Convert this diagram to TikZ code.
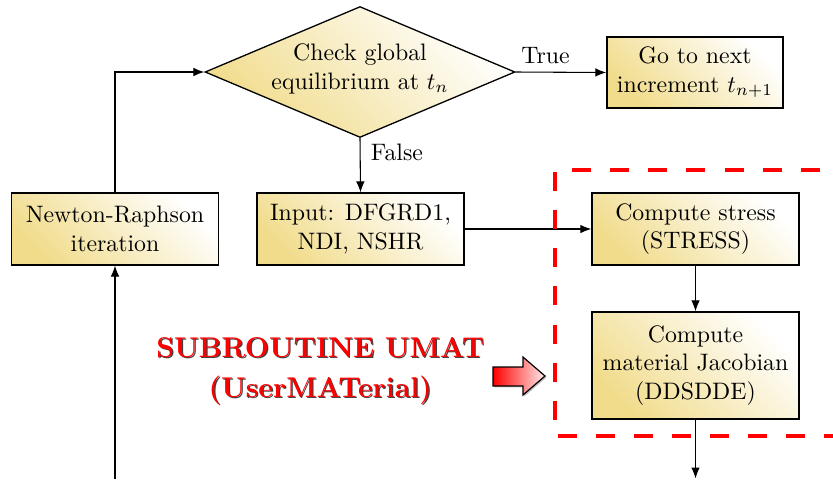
\documentclass[tikz,border=0pt]{standalone}
\usetikzlibrary{shapes.geometric,arrows.meta,shadows}
\definecolor{boxyellow}{RGB}{241,220,140}
\begin{document}
\begin{tikzpicture}[x=0.42pt,y=-0.42pt,
  box/.style={draw, line width=0.55pt, top color=boxyellow, bottom color=white, shading angle=135, align=center, inner sep=0pt, minimum width=87pt, minimum height=30.2pt},
  dia/.style={diamond, draw, line width=0.55pt, top color=boxyellow, bottom color=white, shading angle=135, inner sep=0pt},
  arr/.style={line width=0.45pt, -{Latex[length=4.6pt,width=3.6pt]}},
  reddash/.style={red, line width=1.7pt, dash pattern=on 8pt off 8pt},
  umatstyle/.style={align=center, font=\fontsize{12}{16.8}\selectfont\bfseries}]
\clip (0,0) rectangle (833,479);
% nodes
\node[dia, minimum width=130.2pt, minimum height=55pt] (chk) at (360,72) {};
\node[align=center, inner sep=0pt] (chktxt) at (360,69) {Check global\\equilibrium at $t_n$};
\node[box, minimum width=74pt, minimum height=29.8pt] (go) at (695,72.5) {Go to next\\increment $t_{n+1}$};
\node[box] (nr) at (115,229) {Newton-Raphson\\iteration};
\node[box] (inp) at (360.5,229) {Input: DFGRD1,\\NDI, NSHR};
\node[box] (st) at (695.5,229) {Compute stress\\(STRESS)};
\node[box, minimum height=45pt] (jac) at (695.5,365.5) {Compute\\material Jacobian\\(DDSDDE)};
\coordinate (bot1) at (115,479);
\coordinate (bot2) at (695.5,478.5);
% connectors
\draw[arr] (nr.north) |- (chk.west);
\draw[arr] (bot1) -- (nr.south);
\draw[arr] (chk.east) -- node[above, pos=0.33] (truelbl) {True} (go.west);
\draw[arr] (chk.south) -- node[right, pos=0.27, xshift=1pt] (falselbl) {False} (inp.north);
\draw[arr] (inp.east) -- (st.west);
\draw[arr] (st.south) -- (jac.north);
\draw[arr] (jac.south) -- (bot2);
% red dashed region
\draw[reddash, dash phase=8.8pt] (555,170) -- (850,170);
\draw[reddash, dash phase=15.1pt] (555,170) -- (555,436) -- (850,436);
% subroutine label
\node[umatstyle, text=black!75] (umatshadow) at (321.4,372.4) {SUBROUTINE UMAT\\(UserMATerial)};
\node[umatstyle, text=red] (umat) at (320.2,371) {SUBROUTINE UMAT\\(UserMATerial)};
% block arrow
\draw[line width=0.5pt, left color=red, right color=red!8, drop shadow={shadow xshift=0.6pt, shadow yshift=-0.6pt, opacity=0.5}]
  (493,367) -- (523,367) -- (523,357) -- (545,376) -- (523,395) -- (523,386) -- (493,386) -- cycle;
\end{tikzpicture}
\end{document}
